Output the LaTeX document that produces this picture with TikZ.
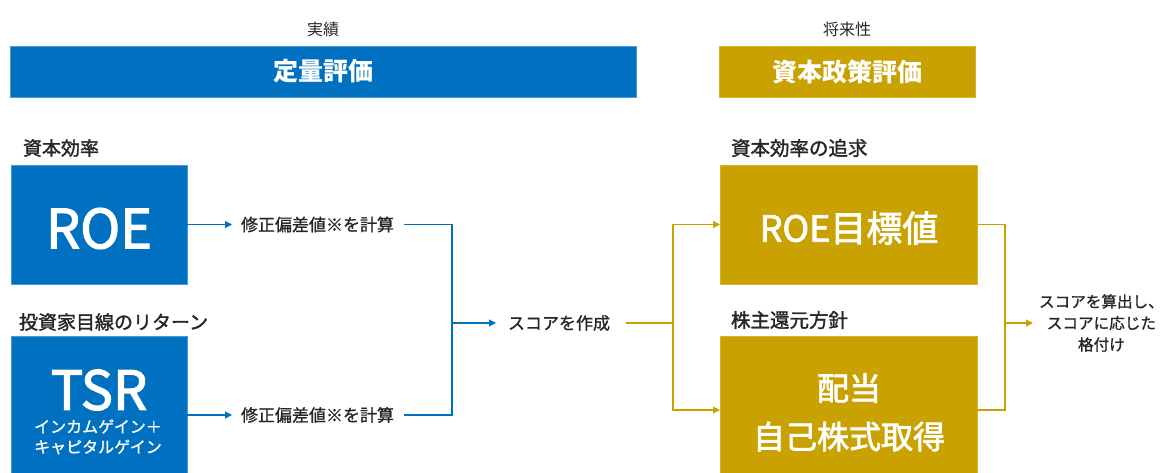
\documentclass[tikz,border=0pt]{standalone}
\usepackage{fontspec}
\setmainfont{Noto Sans CJK JP}
\newfontfamily\medfont[FakeBold=1]{Noto Sans CJK JP}
\newfontfamily\boxfont[FakeBold=2.2]{Noto Sans CJK JP}
\newfontfamily\labfont[FakeBold=1.6]{Noto Sans CJK JP}
\usetikzlibrary{arrows.meta}
\definecolor{cblue}{RGB}{0,112,192}
\definecolor{cgold}{RGB}{201,161,0}
\definecolor{ctext}{RGB}{38,38,38}
\tikzset{
  bluebox/.style={fill=cblue,draw=cblue!70!white,line width=0.6pt,inner sep=0pt,outer sep=0pt},
  goldbox/.style={fill=cgold,draw=cgold!80!white,line width=0.6pt,inner sep=0pt,outer sep=0pt},
  txt/.style={inner sep=0pt,outer sep=0pt,text=ctext},
  wtxt/.style={inner sep=0pt,outer sep=0pt,text=white},
  bline/.style={draw=cblue,line width=1.1pt},
  gline/.style={draw=cgold,line width=1.1pt},
  tip/.style={-{Triangle[length=7pt,width=7pt]}}
}
\newcommand{\fs}[1]{\fontsize{#1}{#1}\selectfont}
\begin{document}
\begin{tikzpicture}[x=1pt,y=-1pt]
\useasboundingbox (0,0) rectangle (1169,473);
\clip (0,0) rectangle (1169,473);
% headers
\node[txt] (lbl1) at (323,29) {\fs{16}実績};
\node[bluebox,minimum width=626pt,minimum height=51pt] (hdr1) at (323,71.5) {};
\node[wtxt] (hdr1t) at (hdr1.center) {\fs{25}\bfseries 定量評価};
\node[txt] (lbl2) at (847,29) {\fs{16}将来性};
\node[goldbox,minimum width=256pt,minimum height=51pt] (hdr2) at (847,71.5) {};
\node[wtxt] (hdr2t) at (hdr2.center) {\fs{25}\bfseries 資本政策評価};
% left column
\node[txt,anchor=west] (cap1) at (23,148) {\fs{19}\labfont 資本効率};
\node[bluebox,minimum width=176pt,minimum height=119pt] (roe) at (99,224.5) {};
\node[wtxt] (roet) at (99,228.5) {\fs{54}\boxfont ROE};
\node[txt,anchor=west] (cap2) at (19,322) {\fs{19}\labfont 投資家目線のリターン};
\node[bluebox,minimum width=176pt,minimum height=158pt] (tsr) at (99,415) {};
\node[wtxt] (tsrt) at (99,390) {\fs{54}\boxfont TSR};
\node[wtxt] (tsrs1) at (98,426.5) {\fs{16}\medfont インカムゲイン＋};
\node[wtxt] (tsrs2) at (98,447) {\fs{16}\medfont キャピタルゲイン};
% calc texts
\node[txt,anchor=west] (calc1) at (241,224.5) {\fs{17}\medfont 修正偏差値※を計算};
\node[txt,anchor=west] (calc2) at (241,415) {\fs{17}\medfont 修正偏差値※を計算};
\coordinate (jb) at (452,323);
\node[txt,anchor=west] (score) at (508,323) {\fs{17}\medfont スコアを作成};
% right column
\node[txt,anchor=west] (cap3) at (731,148) {\fs{19.5}\labfont 資本効率の追求};
\node[goldbox,minimum width=257pt,minimum height=119pt] (roeg) at (848.5,224.5) {};
\node[wtxt] (roegt) at (849,228) {\fs{36}\boxfont ROE目標値};
\node[txt,anchor=west] (cap4) at (731,320) {\fs{19.5}\labfont 株主還元方針};
\node[goldbox,minimum width=257pt,minimum height=148pt] (div) at (848.5,410) {};
\node[wtxt] (divt1) at (849,388) {\fs{32}\boxfont 配当};
\node[wtxt] (divt2) at (849,436.5) {\fs{32}\boxfont 自己株式取得};
\coordinate (jg) at (673,323);
\coordinate (jr) at (1005,323);
\node[txt,align=center,anchor=west,font=\fontsize{15.6}{21.5}\selectfont\medfont] (res) at (1039,323) {スコアを算出し、\\スコアに応じた\\格付け};
% connectors blue
\draw[bline,tip,shorten >=9pt] (roe.east |- calc1.west) -- (calc1.west);
\draw[bline,tip,shorten >=9pt] (tsr.east) -- (calc2.west);
\draw[bline,shorten <=10pt] (calc1.east) -| (jb);
\draw[bline,shorten <=10pt] (calc2.east) -| (jb);
\draw[bline,tip,shorten >=12pt] (jb) -- (score.west);
% connectors gold
\draw[gline,shorten <=16pt] (score.east) -- (jg);
\draw[gline,tip] (jg) |- (roeg.west);
\draw[gline,tip] (jg) |- (div.west);
\draw[gline] (roeg.east) -| (jr);
\draw[gline] (div.east) -| (jr);
\draw[gline,tip,shorten >=6pt] (jr) -- (res.west);
\end{tikzpicture}
\end{document}
